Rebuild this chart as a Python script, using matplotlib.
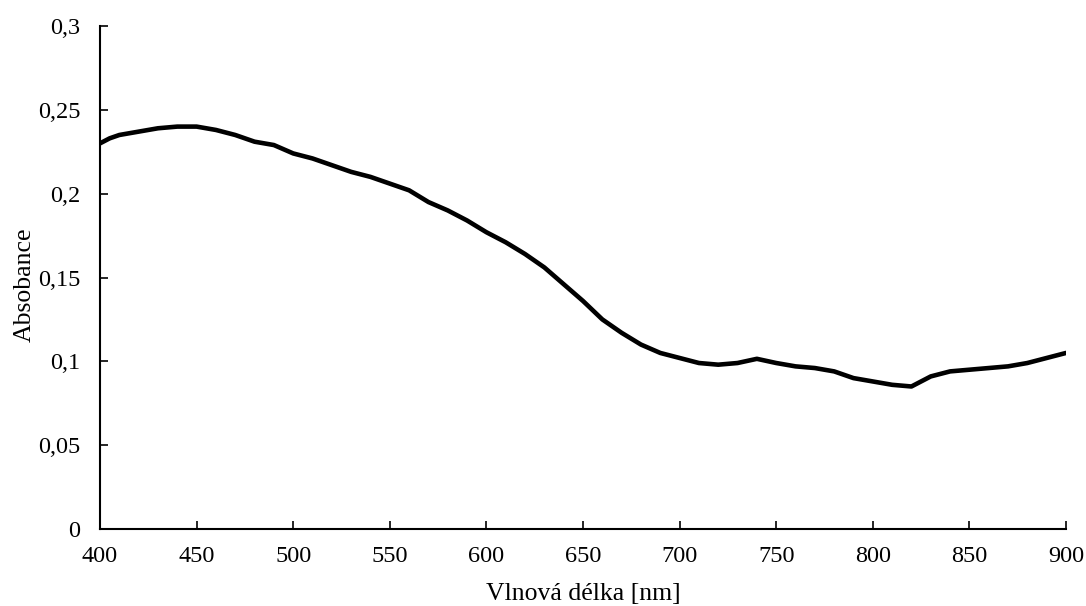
import matplotlib
matplotlib.use("Agg")
import matplotlib.pyplot as plt
from matplotlib.ticker import FuncFormatter

wavelength = [400, 405, 410, 420, 430, 440, 450, 460, 470, 480, 490, 500, 510, 520, 530,
              540, 550, 560, 570, 580, 590, 600, 610, 620, 630, 640, 650, 660, 670, 680,
              690, 700, 710, 720, 730, 740, 750, 760, 770, 780, 790, 800, 810, 820, 830,
              840, 850, 860, 870, 880, 890, 900]
absorbance = [0.230, 0.233, 0.235, 0.237, 0.239, 0.240, 0.240, 0.238, 0.235, 0.231, 0.229, 0.224,
              0.221, 0.217, 0.213, 0.210, 0.206, 0.202, 0.195, 0.190, 0.184, 0.177, 0.171, 0.164,
              0.156, 0.146, 0.136, 0.125, 0.117, 0.110, 0.105, 0.102, 0.099, 0.098, 0.099, 0.1015,
              0.099, 0.097, 0.096, 0.094, 0.090, 0.088, 0.086, 0.085, 0.091, 0.094, 0.095, 0.096,
              0.097, 0.099, 0.102, 0.105]

x_ticks = [400, 450, 500, 550, 600, 650, 700, 750, 800, 850, 900]
y_ticks = [0, 0.05, 0.1, 0.15, 0.2, 0.25, 0.3]

plt.rcParams['font.family'] = ['Liberation Serif', 'DejaVu Serif']

fig = plt.figure(figsize=(10.86, 6.06), dpi=100)
ax = fig.add_axes([100/1086, 77/606, 966/1086, 503/606])
ax.plot(wavelength, absorbance, color='black', linewidth=3.3, solid_joinstyle='round',
        solid_capstyle='round')
ax.set_xlim(400, 900)
ax.set_ylim(0, 0.3)
ax.set_xticks(x_ticks)
ax.set_yticks(y_ticks)
ax.yaxis.set_major_formatter(FuncFormatter(lambda v, p: ('%g' % round(v, 2)).replace('.', ',')))
ax.tick_params(direction='in', length=6, width=1.2, labelsize=17.5)
ax.tick_params(axis='x', pad=12)
ax.tick_params(axis='y', pad=14)
for s in ['top', 'right']:
    ax.spines[s].set_visible(False)
for s in ['left', 'bottom']:
    ax.spines[s].set_linewidth(1.5)
ax.set_xlabel('Vlnová délka [nm]', fontsize=18.5, labelpad=12)
ax.set_ylabel('Absobance', fontsize=18.5, labelpad=10)
ax.yaxis.set_label_coords(-0.067, 0.485)
fig.savefig('out.png', dpi=100)
